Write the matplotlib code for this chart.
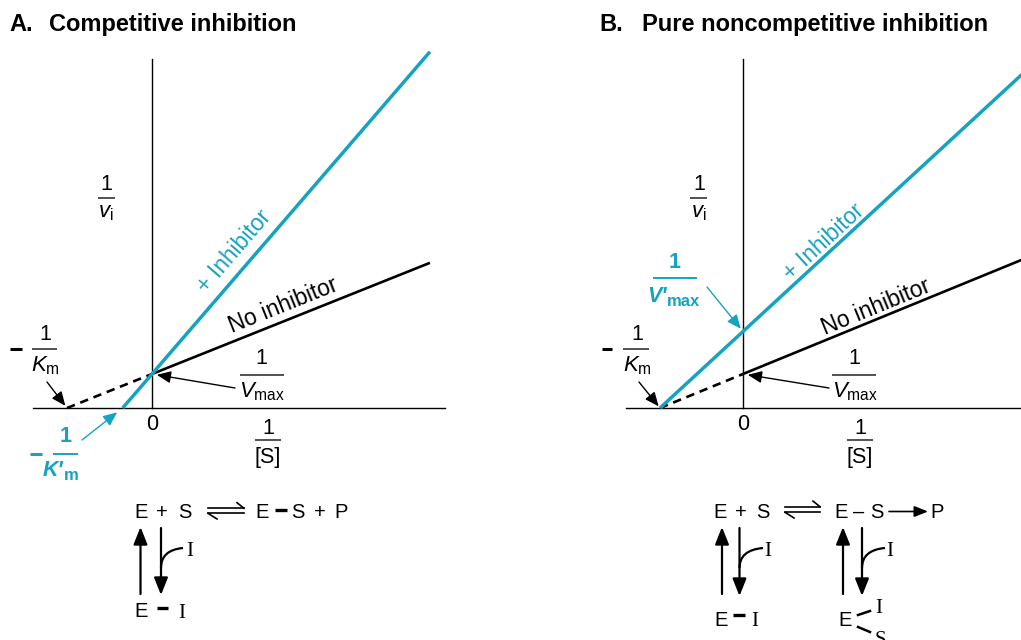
import numpy as np
import matplotlib
matplotlib.use('Agg')
import matplotlib.pyplot as plt
from matplotlib.path import Path
from matplotlib.patches import PathPatch

plt.rcParams['font.family'] = ['Liberation Sans', 'DejaVu Sans']
plt.rcParams['mathtext.fontset'] = 'custom'
plt.rcParams['mathtext.rm'] = 'Liberation Sans'
plt.rcParams['mathtext.it'] = 'Liberation Sans:italic'
plt.rcParams['mathtext.bf'] = 'Liberation Sans:bold'

W, H = 1021, 640
BLUE = '#16a2c1'
SERIF = 'Liberation Serif'

# Lineweaver-Burk plots in arbitrary units (1/Km = 1)
KM = 1.0
INV_VMAX = 0.4             # 1/Vmax, no inhibitor
INV_KM_APP_A = 0.345       # 1/K'm, competitive inhibitor
INV_VMAX_APP_B = 0.9       # 1/V'max, noncompetitive inhibitor
X_END_A = 3.27
X_END_B = 3.4

# pixel origin and pixels per unit of each panel
PANEL_A = dict(ox=152, oy=408, sx=85, sy=85)
PANEL_B = dict(ox=743, oy=408, sx=83, sy=85)

fig = plt.figure(figsize=(W / 100, H / 100), dpi=100)


def panel_axes(p):
    ax = fig.add_axes([0, 0, 1, 1])
    ax.set_xlim((0 - p['ox']) / p['sx'], (W - p['ox']) / p['sx'])
    ax.set_ylim((p['oy'] - H) / p['sy'], p['oy'] / p['sy'])
    ax.axis('off')
    ax.patch.set_alpha(0)
    return ax


axA = panel_axes(PANEL_A)
axB = panel_axes(PANEL_B)

# overlay in pixel units for labels and reaction schemes
ov = fig.add_axes([0, 0, 1, 1])
ov.set_xlim(0, W)
ov.set_ylim(H, 0)
ov.axis('off')
ov.patch.set_alpha(0)


def txt(x, y, s, size=15.5, color='black', ha='center', va='center', **kw):
    ov.text(x, y, s, fontsize=size, color=color, ha=ha, va=va, **kw)


def bar(x0, x1, y, color='#333333', lw=1.2):
    ov.plot([x0, x1], [y, y], color=color, lw=lw, solid_capstyle='butt')


def pointer(ax, xy, start, color='black', shrink=2):
    ax.annotate('', xy=xy, xycoords='data', xytext=start, textcoords=ov.transData,
                arrowprops=dict(arrowstyle='-|>,head_length=0.65,head_width=0.28',
                                mutation_scale=13, color=color, lw=1.0,
                                shrinkA=0, shrinkB=shrink))


def axes_lines(ax, x_lo, x_hi, y_hi):
    ax.plot([x_lo, x_hi], [0, 0], color='black', lw=1.0)
    ax.plot([0, 0], [0, y_hi], color='black', lw=1.0)


def angle(slope, p):
    return np.degrees(np.arctan(slope * p['sy'] / p['sx']))


# ---------------- Panel A: competitive inhibition ----------------
slope_no = KM * INV_VMAX
slope_A = INV_VMAX / INV_KM_APP_A
axes_lines(axA, (33 - 152) / 85, (445 - 152) / 85, (408 - 59) / 85)
xs = np.array([0, X_END_A])
axA.plot(xs, INV_VMAX + slope_no * xs, color='black', lw=1.9, solid_capstyle='butt')
xd = np.array([-1 / KM, 0])
axA.plot(xd, INV_VMAX + slope_no * xd, color='black', lw=1.9, ls=(0, (3.2, 2.2)))
xb = np.array([-INV_KM_APP_A, X_END_A])
axA.plot(xb, INV_VMAX + slope_A * xb, color=BLUE, lw=2.5, solid_capstyle='butt')

ov.text(9, 31, 'A.', fontsize=17, fontweight='bold', va='baseline')
ov.text(49, 31, 'Competitive inhibition', fontsize=17, fontweight='bold', va='baseline')

txt(234, 251, '+ Inhibitor', size=16.5, color=BLUE, rotation=angle(slope_A, PANEL_A),
    rotation_mode='anchor')
txt(283, 305, 'No inhibitor', size=16.5, rotation=angle(slope_no, PANEL_A),
    rotation_mode='anchor')

# 1/vi
txt(106, 185, '1')
bar(98, 115, 198)
txt(106, 213, r'$v_\mathrm{i}$', size=16)
# -1/Km
bar(10, 22, 349, color='black', lw=2.2)
txt(45, 334, '1')
bar(32, 57, 349)
txt(45, 366, r'$K_\mathrm{m}$', size=16)
pointer(axA, (-1 / KM, 0), (47, 382), shrink=2)
# 1/Vmax
txt(261, 358, '1')
bar(240, 284, 375)
txt(262, 392, r'$V_\mathrm{max}$', size=16)
pointer(axA, (0, INV_VMAX), (235, 388), shrink=3.5)
# axis ticks
txt(152, 425, '0')
txt(268, 428, '1')
bar(255, 281, 440)
txt(268, 458, '[S]')
# -1/K'm
bar(30, 42, 454, color=BLUE, lw=2.2)
txt(66, 437, '1', color=BLUE, fontweight='bold')
bar(53, 78, 454, color=BLUE, lw=1.4)
txt(63, 471, "K'", color=BLUE, fontweight='bold', style='italic', ha='right')
txt(64, 476, 'm', size=12, color=BLUE, fontweight='bold', ha='left')
pointer(axA, (-INV_KM_APP_A, 0), (82, 440), color=BLUE, shrink=5)

# ---------------- Panel B: pure noncompetitive inhibition ----------------
slope_B = INV_VMAX_APP_B * KM
axes_lines(axB, (626 - 743) / 83, (W - 743) / 83, (408 - 59) / 85)
xs = np.array([0, X_END_B])
axB.plot(xs, INV_VMAX + slope_no * xs, color='black', lw=1.9, solid_capstyle='butt')
xd = np.array([-1 / KM, 0])
axB.plot(xd, INV_VMAX + slope_no * xd, color='black', lw=1.9, ls=(0, (3.2, 2.2)))
xb = np.array([-1 / KM, X_END_B])
axB.plot(xb, INV_VMAX_APP_B + slope_B * xb, color=BLUE, lw=2.5, solid_capstyle='butt')

ov.text(599, 31, 'B.', fontsize=17, fontweight='bold', va='baseline')
ov.text(642, 31, 'Pure noncompetitive inhibition', fontsize=17, fontweight='bold',
        va='baseline')

txt(824, 242, '+ Inhibitor', size=16.5, color=BLUE, rotation=angle(slope_B, PANEL_B),
    rotation_mode='anchor')
txt(876, 307, 'No inhibitor', size=16.5, rotation=angle(slope_no, PANEL_B),
    rotation_mode='anchor')

txt(699, 184, '1')
bar(690, 707, 198)
txt(699, 213, r'$v_\mathrm{i}$', size=16)
bar(602, 612, 349, color='black', lw=2.2)
txt(637, 334, '1')
bar(623, 649, 349)
txt(637, 366, r'$K_\mathrm{m}$', size=16)
pointer(axB, (-1 / KM, 0), (639, 382), shrink=1.5)
# 1/V'max
txt(675, 262, '1', color=BLUE, fontweight='bold')
bar(653, 697, 278, color=BLUE, lw=1.4)
txt(667, 296, "V'", color=BLUE, fontweight='bold', style='italic', ha='right')
txt(667, 301, 'max', size=12, color=BLUE, fontweight='bold', ha='left')
pointer(axB, (0, INV_VMAX_APP_B), (707, 287), color=BLUE, shrink=2.5)
# 1/Vmax
txt(854, 358, '1')
bar(832, 876, 375)
txt(855, 392, r'$V_\mathrm{max}$', size=16)
pointer(axB, (0, INV_VMAX), (829, 388), shrink=3.5)
txt(743, 425, '0')
txt(860, 428, '1')
bar(847, 873, 440)
txt(860, 458, '[S]')


# ---------------- reaction schemes ----------------
def harpoons(x0, x1, y_top, y_bot):
    ov.plot([x0, x1], [y_top, y_top], color='black', lw=1.2)
    ov.plot([x1, x1 - 7], [y_top, y_top - 5.6], color='black', lw=1.2)
    ov.plot([x0, x1], [y_bot, y_bot], color='black', lw=1.2)
    ov.plot([x0, x0 + 9], [y_bot, y_bot + 5.7], color='black', lw=1.2)


def vert_arrow(x, y_from, y_to):
    ov.annotate('', xy=(x, y_to), xytext=(x, y_from),
                arrowprops=dict(arrowstyle='-|>,head_length=0.75,head_width=0.3',
                                mutation_scale=14, color='black', lw=1.6,
                                shrinkA=0, shrinkB=0))


def inlet(x, y0, x1, y1):
    path = Path([(x, y0), (x, y1 + 2), (x1, y1)], [Path.MOVETO, Path.CURVE3, Path.CURVE3])
    ov.add_patch(PathPatch(path, fill=False, lw=1.6, color='black'))


def scheme_text(x, y, s, size=14.5, **kw):
    ov.text(x, y, s, fontsize=size, ha='center', va='baseline', **kw)


# A
for x, s in [(141, 'E'), (162, '+'), (185, 'S'), (262.5, 'E'), (297.5, 'S'),
             (320, '+'), (341.5, 'P')]:
    scheme_text(x, 518, s)
ov.plot([275, 287], [509.5, 509.5], color='black', lw=2.4, solid_capstyle='butt')
harpoons(208, 244, 508.3, 513.3)
vert_arrow(140.5, 594, 527)
vert_arrow(161, 528, 595)
inlet(161, 568, 183, 548)
scheme_text(190, 556, 'I', size=15, family=SERIF)
scheme_text(141, 617, 'E')
ov.plot([157, 168], [608, 608], color='black', lw=2.4, solid_capstyle='butt')
scheme_text(182, 618, 'I', size=15, family=SERIF)

# B
for x, s in [(720, 'E'), (741, '+'), (763, 'S'), (841, 'E'), (859, '\u2013'),
             (877, 'S'), (937, 'P')]:
    scheme_text(x, 518, s)
harpoons(785, 820, 506.7, 512.3)
ov.annotate('', xy=(928, 511.5), xytext=(889, 511.5),
            arrowprops=dict(arrowstyle='-|>,head_length=0.75,head_width=0.3',
                            mutation_scale=11, color='black', lw=1.2,
                            shrinkA=0, shrinkB=0))
vert_arrow(722, 594, 527)
vert_arrow(739.5, 528, 596)
inlet(739.5, 568, 763, 548)
scheme_text(768, 556, 'I', size=15, family=SERIF)
vert_arrow(843, 594, 527)
vert_arrow(862, 528, 596)
inlet(862, 568, 885, 548)
scheme_text(890, 556, 'I', size=15, family=SERIF)
scheme_text(721, 626, 'E')
ov.plot([733, 745], [615, 615], color='black', lw=2.4, solid_capstyle='butt')
scheme_text(755, 626, 'I', size=15, family=SERIF)
scheme_text(845.5, 626, 'E')
ov.plot([858, 870], [615, 611], color='black', lw=1.8)
ov.plot([858, 870], [627, 632], color='black', lw=1.8)
scheme_text(879, 613, 'I', size=15, family=SERIF)
scheme_text(880, 645, 'S', size=15, family=SERIF)

fig.savefig('out.png', dpi=100, facecolor='white')
